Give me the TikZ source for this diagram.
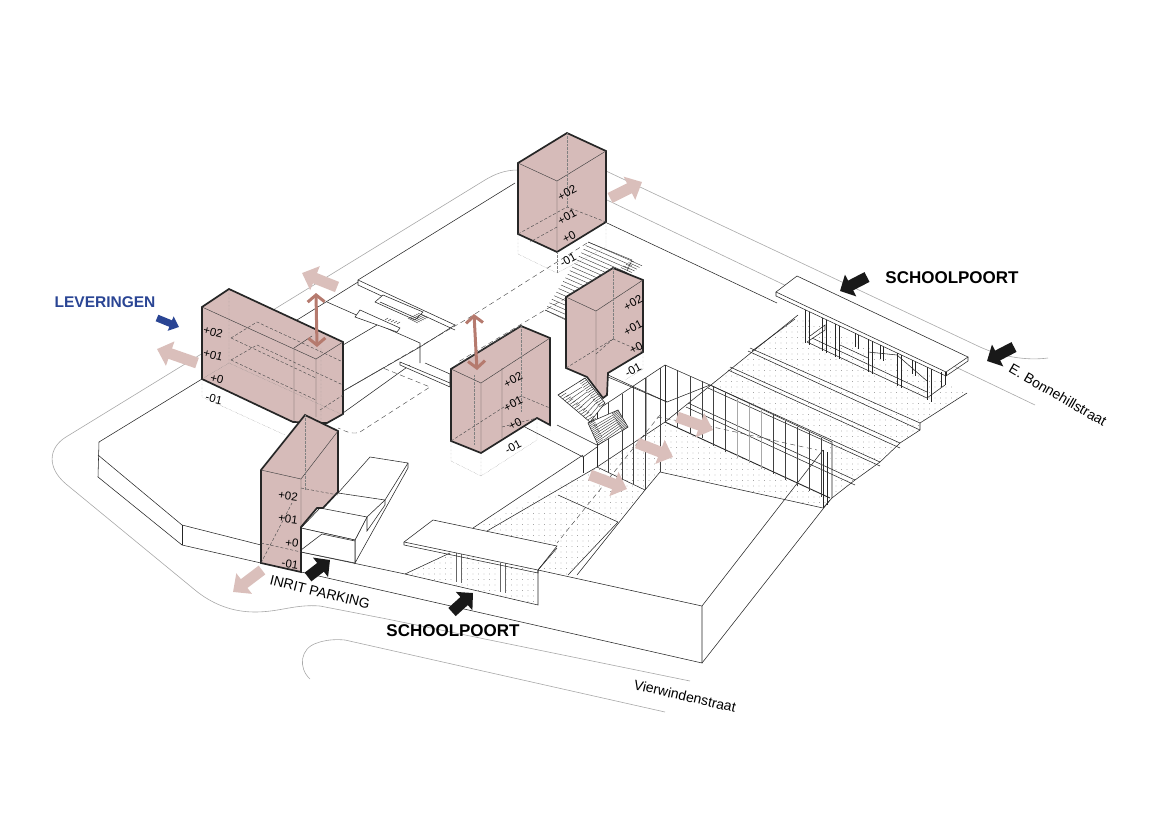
\documentclass[tikz,border=0pt]{standalone}
\usepackage{fontspec}
\setmainfont{Liberation Sans}
\usepackage{xcolor}
\usetikzlibrary{arrows.meta,calc,patterns.meta}
\definecolor{volumepink}{HTML}{D6BBB9}
\definecolor{flowpink}{HTML}{DABFBB}
\definecolor{liftpink}{HTML}{B57A6E}
\definecolor{roadgray}{HTML}{A8A8A8}
\definecolor{leverblue}{HTML}{2A4594}

\begin{document}
\begin{tikzpicture}[
    x=1pt,y=-1pt,
    lijn/.style    = {black!85, line width=0.55pt},
    straat/.style  = {roadgray, line width=0.6pt},
    volume/.style  = {draw=black!85, fill=volumepink, line width=1.7pt, line join=miter},
    binnen/.style  = {black!75, line width=0.45pt},
    trede/.style   = {black!80, line width=0.4pt},
    hidden/.style  = {black!50, line width=0.35pt, densely dotted},
    streep/.style  = {black!70, line width=0.45pt, dash pattern=on 5pt off 3.5pt},
    vlak/.style    = {fill=white, draw=black!85, line width=0.55pt},
    stip/.style    = {pattern={Dots[distance=5.5pt,radius=0.3pt]}, pattern color=black!55},
    stroom/.style  = {-{Triangle[length=14pt,width=25pt]}, flowpink, line width=11pt},
    poort/.style   = {-{Triangle[length=12pt,width=24pt]}, black!90, line width=11pt},
    lever/.style   = {-{Triangle[length=9pt,width=15pt]}, leverblue, line width=7pt},
    lift/.style    = {{Straight Barb[length=7pt,width=17pt]}-{Straight Barb[length=7pt,width=17pt]}, liftpink, line width=3pt},
    niveau/.style  = {font=\fontsize{11.5}{13}\selectfont, text=black, inner sep=0pt},
    titel/.style   = {font=\fontsize{17}{20}\selectfont\bfseries, inner sep=0pt},
    bord/.style    = {font=\fontsize{14}{16}\selectfont, inner sep=0pt},
  ]

  \useasboundingbox (0,0) rectangle (1169,827);

  % dotted ground
  \fill[stip] (798,315) -- (967,393) -- (920,423) -- (920,430) -- (900,443) -- (880,462) -- (855,480)
              -- (832,498) -- (830,442) -- (710,385) -- cycle;
  \fill[stip] (665,422) -- (830,498) -- (823,508) -- (660,472) -- (645,490) -- (597,467) -- cycle;
  \fill[stip] (597,467) -- (645,490) -- (568,575) -- (538,570) -- (473,528) -- cycle;
  \fill[stip] (405,574) -- (450,553) -- (538,570) -- (538,605) -- cycle;

  % streets
  \draw[straat] (518,170) .. controls (505,170) and (495,174) .. (485,180) -- (66,437)
     .. controls (48,448) and (47,468) .. (66,484) -- (195,590)
     .. controls (212,604) and (232,612) .. (255,612) .. controls (280,612) and (295,604) .. (320,606)
     -- (387,619) -- (690,681);
  \draw[straat] (310,679) .. controls (298,668) and (300,648) .. (317,643)
     .. controls (325,640) and (335,639) .. (345,640) -- (665,712);
  \draw[straat] (606,171) -- (980,347) .. controls (1000,356) and (1025,361) .. (1048,358);
  \draw[straat] (607,200) -- (1035,405);

  % main site
  \draw[lijn] (202,379) -- (99,442) -- (98,477) -- (182,545) -- (261,563);
  \draw[lijn] (98,455) -- (182,525) -- (261,545);
  \draw[lijn] (182,525) -- (182,545);
  \draw[lijn] (301,572) -- (702,663) -- (702,606) -- (538,570) -- (538,605) -- (405,574) -- (301,552);
  \draw[lijn] (702,606) -- (823,450);
  \draw[lijn] (702,663) -- (830,500);
  \draw[lijn] (515,183) -- (358,280) -- (358,285) -- (455,330);
  \draw[lijn] (358,280) -- (455,325) -- (420,347);
  \draw[lijn] (358,282) -- (297,320);
  \draw[lijn] (327,302) -- (420,343) -- (420,363);
  \draw[lijn] (343,345) -- (377,325);
  \draw[lijn] (345,390) -- (420,347);
  \draw[lijn] (343,413) -- (410,365);
  \draw[lijn] (607,223) -- (777,303);

  % stairs in the garden
  \draw[lijn,fill=white] (375,302) -- (383,295) -- (423,312) -- (415,320) -- cycle;
  \draw[lijn] (380,302) -- (418,319);
  \draw[lijn,fill=white] (355,317) -- (360,310) -- (400,328) -- (397,332) -- cycle;
  \draw[lijn,fill=white] (400,362) -- (450,383) -- (450,387) -- (400,365) -- cycle;
  \draw[lijn] (425,363) -- (450,374) -- (450,383);
  \foreach \i in {0,...,5} \draw[binnen] (408+\i*2,318-\i) -- (418+\i*2,323-\i);
  \foreach \i in {0,...,4} \draw[binnen] (385+\i*3,320+\i) -- (388+\i*3,318+\i);

  % dashed walkways
  \draw[streep] (587,243) -- (467,319) -- (340,393);
  \draw[streep] (566,298) -- (545,310) -- (458,362);
  \draw[streep] (340,393) -- (383,368) -- (430,387) -- (360,432)
     .. controls (355,434) and (350,433) .. (345,431) -- (338,428);

  % stairs behind the tower
  \foreach \i in {0,...,19}
     \draw[trede] ($(588,242)!{\i/19}!(545,310)$) -- ++(46,20);
  \foreach \i in {0,...,6}
     \draw[trede] (616+\i*2.5,271-\i*1.7) -- ++(11,5);
  \draw[trede] (588,242) -- (632,260) -- (627,271);
  \draw[trede] (545,310) -- (566,320);

  % gate at the east side
  \foreach \px in {805,822,835,868,897,927}
     \draw[lijn] (\px,{296+(\px-776)*0.47}) -- ++(0,33) (\px+4,{298+(\px-776)*0.47}) -- ++(0,33);
  \draw[lijn] (807,342) -- (927,398) -- (945,385);
  \draw[lijn] (812,338) -- (927,392);
  \draw[lijn] (807,342) -- (825,330) -- (825,325) -- (810,336);
  \draw[lijn] (840,345) -- (868,358) (868,352) -- (897,355) -- (927,381);
  \foreach \px in {855,880,912}
     \draw[lijn] (\px,{296+(\px-776)*0.47}) -- ++(0,14) (\px+3,{298+(\px-776)*0.47}) -- ++(0,14);
  \draw[lijn] (945,372) -- (945,385) (941,372) -- (941,387);
  \draw[vlak] (776,292) -- (797,276) -- (968,357) -- (946,372) -- cycle;
  \draw[lijn] (776,292) -- (776,296) -- (946,376) -- (968,361) -- (968,357);
  \draw[lijn] (946,372) -- (946,376);

  % terraces
  \draw[lijn] (597,467) -- (665,422) -- (798,315);
  \draw[lijn] (795,319) -- (752,351);
  \draw[lijn] (967,393) -- (920,423) -- (920,430) -- (900,443) -- (880,462) -- (855,480) -- (832,498) -- (823,508);
  \draw[lijn] (750,348) -- (920,423) (748,351) -- (920,430);
  \draw[lijn] (730,367) -- (900,443) (728,370) -- (900,448);
  \draw[lijn] (710,385) -- (880,462) (708,388) -- (880,466);
  \draw[lijn] (688,403) -- (855,480) (686,407) -- (855,485);

  % pit with glass wall
  \draw[lijn,line width=0.9pt] (665,422) -- (830,498);
  \draw[lijn] (597,467) -- (645,490) -- (660,472) -- (823,508);
  \draw[lijn] (597,410) -- (665,365) -- (710,385) -- (832,442) -- (832,498);
  \draw[lijn] (597,410) -- (597,467);
  \draw[lijn] (665,365) -- (665,422);
  \draw[lijn] (608,375) -- (667,402) -- (710,385);
  \foreach \px/\pb in {608/473,622/480,633/484,645/490,660/472}
     \draw[binnen] (\px,{410-(\px-597)*0.66}) -- (\px,\pb);
  \foreach \px in {677,690,702}
     \draw[binnen] (\px,{365+(\px-665)*0.444}) -- ++(0,57);
  \foreach \px in {713,725,773,785,797,809,821}
     \draw[binnen] (\px,{386+(\px-710)*0.467}) -- ++(0,59);
  \foreach \px in {737,749,761}
     \draw[roadgray,line width=1pt] (\px,{386+(\px-710)*0.467}) -- ++(0,59);
  \draw[roadgray,line width=1pt] (646,378) -- (646,436);
  \draw[lijn] (823,450) -- (823,508) (827,452) -- (827,505);
  \draw[streep] (657,417) -- (713,427) -- (817,450);
  \draw[streep] (660,415) -- (557,543);

  % court lines
  \draw[lijn] (523,426) -- (583,457) -- (597,447);
  \draw[lijn] (557,425) -- (597,445);
  \draw[lijn] (583,457) -- (583,473);
  \draw[lijn] (583,455) -- (473,528);
  \draw[lijn] (597,467) -- (487,531);
  \draw[lijn] (558,495) -- (618,522);
  \draw[lijn] (645,490) -- (577,575);
  \draw[lijn] (618,522) -- (568,575);
  \draw[lijn] (405,574) -- (450,553);
  \draw[lijn] (608,377) -- (667,402);

  % canopy on the school street
  \draw[black!60,line width=0.5pt] (456,553) -- (456,582) (461,553) -- (461,583);
  \draw[black!60,line width=0.5pt] (500,563) -- (500,592) (505,563) -- (505,593);
  \draw[vlak] (404,542) -- (433,520) -- (557,546) -- (538,570) -- cycle;
  \draw[lijn] (404,542) -- (404,545) -- (538,573) -- (538,570);
  \draw[lijn] (538,570) -- (557,548);

  % parking ramp
  \draw[vlak] (338,493) -- (370,457) -- (408,463) -- (408,468) -- (355,563) -- (355,540) -- (367,517) -- (385,500) -- cycle;
  \draw[lijn] (367,517) -- (367,531) -- (385,505) -- (385,500) -- (408,463);
  \draw[vlak] (301,528) -- (320,508) -- (367,517) -- (355,540) -- cycle;
  \draw[vlak] (301,528) -- (355,540) -- (355,563) -- (301,552) -- cycle;
  \draw[lijn] (301,550) -- (322,534) -- (355,541);

  % lower stair
  \draw[vlak] (558,395) -- (585,378) -- (605,403) -- (590,422) -- cycle;
  \draw[vlak] (588,423) -- (618,410) -- (628,427) -- (598,445) -- cycle;
  \foreach \i in {0,...,7}
     \draw[trede] ($(566,397)!{\i/7}!(590,416)$) -- ($(582,387)!{\i/7}!(600,404)$);
  \foreach \i in {0,...,7}
     \draw[trede] ($(594,426)!{\i/7}!(604,440)$) -- ($(613,415)!{\i/7}!(622,427)$);
  \foreach \i in {0,...,14} {
     \draw[trede] ($(558,395)!{\i/14}!(590,422)$) -- ++(6,-4);
     \draw[trede] ($(585,378)!{\i/14}!(605,403)$) -- ++(-6,4);
     \draw[trede] ($(588,423)!{\i/14}!(598,445)$) -- ++(6,-4);
     \draw[trede] ($(618,410)!{\i/14}!(628,427)$) -- ++(-6,4);
  }

  % volumes
  \draw[volume] (202,307) -- (229,289) -- (343,342) -- (343,414) -- (327,423) -- (293,422) -- (202,379) -- cycle;
  \draw[binnen] (202,307) -- (316,359) -- (343,342);
  \draw[binnen] (294,348) -- (294,422) (316,359) -- (316,417) (294,348) -- (312,336);
  \draw[hidden] (229,289) -- (229,363) -- (202,379);
  \draw[hidden] (229,363) -- (343,415) (321,348) -- (321,420);
  \draw[streep,dash pattern=on 3pt off 2pt] (231,338) -- (257,322) -- (343,362) (231,338) -- (316,378);
  \draw[streep,dash pattern=on 3pt off 2pt] (231,360) -- (257,345) -- (343,385) (231,360) -- (316,400);
  \draw[streep,dash pattern=on 3pt off 2pt] (320,410) -- (343,395);
  \draw[hidden] (202,379) -- (202,397) -- (224,407) (224,407) -- (285,435);

  \draw[volume] (305,415) -- (338,431) -- (338,492) -- (323,508) -- (317,508) -- (301,527) -- (301,572) -- (261,563) -- (261,470) -- cycle;
  \draw[binnen] (261,470) -- (301,479) -- (338,431) (301,479) -- (301,527);
  \draw[hidden] (305,415) -- (305,490);
  \draw[streep,dash pattern=on 3pt off 2pt] (301,488) -- (338,495) (261,563) -- (292,503) (261,543) -- (301,552);

  \draw[volume] (567,133) -- (606,151) -- (606,222) -- (557,252) -- (518,234) -- (518,163) -- cycle;
  \draw[binnen] (518,163) -- (557,181) -- (606,151) (557,181) -- (557,252);
  \draw[hidden] (567,133) -- (567,207);
  \draw[streep,dash pattern=on 3pt off 2pt] (518,234) -- (567,207) -- (606,222) (557,227) -- (530,242);
  \draw[hidden] (518,234) -- (518,254) -- (557,273) -- (606,247) -- (606,222);
  \draw[hidden] (557,252) -- (557,273);

  \draw[volume] (566,297) -- (613,268) -- (643,280) -- (643,352) -- (608,373) -- (607,395) -- (603,398) -- (587,377) -- (566,368) -- cycle;
  \draw[binnen] (566,297) -- (596,311) -- (643,280) (596,311) -- (596,387);
  \draw[hidden] (613,268) -- (613,339);
  \draw[streep,dash pattern=on 3pt off 2pt] (566,368) -- (613,339) -- (643,352) (596,354) -- (613,339);
  \draw[hidden] (643,352) -- (643,369) -- (625,380);

  \draw[volume] (451,369) -- (521,326) -- (550,338) -- (550,425) -- (537,418) -- (481,453) -- (451,441) -- cycle;
  \draw[binnen] (451,369) -- (481,383) -- (550,338) (481,383) -- (481,453) (502,368) -- (502,438);
  \draw[hidden] (521,326) -- (521,412) (474,375) -- (474,445);
  \draw[streep,dash pattern=on 3pt off 2pt] (451,441) -- (521,396) -- (550,408) (502,427) -- (537,418);
  \draw[hidden] (451,441) -- (451,461) -- (481,476) -- (537,440) -- (537,418) (481,453) -- (481,476) (550,425) -- (550,432);
  \draw[streep,dash pattern=on 5pt off 4pt] (455,366) -- (521,326);
  \draw[streep,dash pattern=on 5pt off 4pt] (570,294) -- (613,268);

  % levels
  \foreach \ntxt/\nname/\px/\py/\prot in {
     +02/a2/213/332/-14, +01/a1/213/355/-14, +0/a0/217/379/-14, -01/am/214/399/-14,
     +02/b2/288/496/-8, +01/b1/288/519/-8, +0/b0/292/543/-8, -01/bm/290/564/-8,
     +02/c2/567/193/28, +01/c1/567/217/28, +0/c0/569/237/28, -01/cm/568/260/28,
     +02/d2/513/380/28, +01/d1/513/404/28, +0/d0/515/424/28, -01/dm/513/447/28,
     +02/e2/633/303/28, +01/e1/633/328/28, +0/e0/636/348/28, -01/em/633/370/28}
     \node[niveau,rotate=\prot] (lvl\nname) at (\px,\py) {\ntxt};

  % arrows
  \draw[stroom] (197,363) -- (157,349);
  \draw[stroom] (337,287) -- (302,273);
  \draw[stroom] (262,570) -- (233,592);
  \draw[stroom] (610,198) -- (642,182);
  \draw[stroom] (677,417) -- (713,430);
  \draw[stroom] (637,443) -- (673,457);
  \draw[stroom] (590,475) -- (627,489);
  \draw[lift] (316,293) -- (317,347);
  \draw[lift] (474,314) -- (477,370);
  \draw[lever] (157,318) -- (179,327);
  \draw[poort] (867,277) -- (840,291);
  \draw[poort] (1014,347) -- (987,361);
  \draw[poort] (308,577) -- (330,560);
  \draw[poort] (452,612) -- (473,593);

  % labels
  \node[titel,text=leverblue,font=\fontsize{15.5}{18}\selectfont\bfseries] (leveringen) at (105,302) {LEVERINGEN};
  \node[titel] (poortoost) at (952,278) {SCHOOLPOORT};
  \node[titel] (poortzuid) at (453,631) {SCHOOLPOORT};
  \node[bord,rotate=-14] (inrit) at (320,592) {INRIT PARKING};
  \node[bord,rotate=-13] (vierwinden) at (685,696) {Vierwindenstraat};
  \node[bord,rotate=-30] (bonnehill) at (1058,395) {E. Bonnehillstraat};

\end{tikzpicture}
\end{document}
